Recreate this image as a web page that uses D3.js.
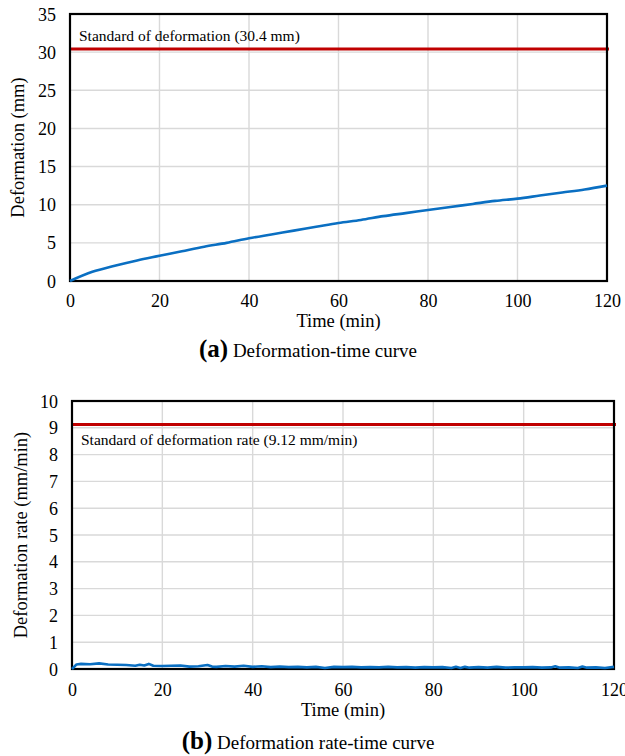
<!DOCTYPE html>
<html>
<head>
<meta charset="utf-8">
<script src="https://cdn.jsdelivr.net/npm/d3@7"></script>
<style>
  body { margin: 0; background: #fff; }
  svg text { font-family: "Liberation Serif", "Times New Roman", serif; fill: #000; }
</style>
</head>
<body>
<svg id="fig" width="625" height="756"></svg>
<script>
// (a) deformation vs time, every 5 min
const defTime  = [0, 5, 10, 15, 20, 25, 30, 35, 40, 45, 50, 55, 60, 65, 70, 75, 80, 85, 90, 95, 100, 105, 110, 115, 120];
const defValue = [0, 1.2, 2.0, 2.7, 3.3, 3.9, 4.5, 5.0, 5.6, 6.1, 6.6, 7.1, 7.6, 8.0, 8.5, 8.9, 9.3, 9.7, 10.1, 10.5, 10.8, 11.2, 11.6, 12.0, 12.5];

// (b) deformation rate vs time
const rateTime  = [0, 1, 2, 4, 6, 8, 10, 12, 14, 15, 16, 17, 18, 20, 22, 24, 26, 28, 30, 31, 32, 34, 36, 38, 40, 42, 44, 46, 48, 50, 52, 54, 56, 58, 60, 62, 64, 66, 68, 70, 72, 74, 76, 78, 80, 82, 84, 85, 86, 87, 88, 90, 92, 94, 96, 98, 100, 102, 104, 106, 107, 108, 110, 112, 113, 114, 116, 118, 120];
const rateValue = [0, 0.17, 0.19, 0.18, 0.21, 0.17, 0.16, 0.15, 0.12, 0.16, 0.13, 0.19, 0.12, 0.11, 0.12, 0.13, 0.09, 0.10, 0.15, 0.09, 0.08, 0.11, 0.09, 0.12, 0.08, 0.10, 0.07, 0.09, 0.07, 0.08, 0.06, 0.08, 0.04, 0.08, 0.07, 0.08, 0.06, 0.07, 0.06, 0.08, 0.06, 0.07, 0.05, 0.07, 0.06, 0.07, 0.04, 0.08, 0.04, 0.08, 0.05, 0.07, 0.05, 0.08, 0.05, 0.06, 0.06, 0.07, 0.05, 0.06, 0.10, 0.05, 0.06, 0.04, 0.09, 0.05, 0.06, 0.04, 0.08];

const xTicks  = [0, 20, 40, 60, 80, 100, 120];
const aYTicks = [0, 5, 10, 15, 20, 25, 30, 35];
const bYTicks = [0, 1, 2, 3, 4, 5, 6, 7, 8, 9, 10];

const FONT = '"Liberation Serif", "Times New Roman", serif';
const svg = d3.select("#fig");

function panel(o) {
  const x = d3.scaleLinear().domain([0, 120]).range([o.left, o.right]);
  const y = d3.scaleLinear().domain([0, o.yMax]).range([o.bottom, o.top]);
  const g = svg.append("g");

  // grid
  g.append("g").selectAll("line").data(o.yTicks.slice(1, -1)).enter().append("line")
    .attr("x1", o.left).attr("x2", o.right)
    .attr("y1", d => y(d)).attr("y2", d => y(d))
    .attr("stroke", "#d9d9d9").attr("stroke-width", 1.4);
  g.append("g").selectAll("line").data(xTicks.slice(1, -1)).enter().append("line")
    .attr("y1", o.top).attr("y2", o.bottom)
    .attr("x1", d => x(d)).attr("x2", d => x(d))
    .attr("stroke", "#d9d9d9").attr("stroke-width", 1.4);

  // axes (labels only)
  const ax = g.append("g").attr("transform", `translate(0,${o.bottom})`)
    .call(d3.axisBottom(x).tickValues(xTicks).tickSize(0).tickPadding(0))
    .attr("font-family", FONT).attr("font-size", 18);
  ax.select(".domain").remove();
  ax.selectAll("text").attr("y", o.xLabelY - o.bottom).attr("dy", null);

  const ay = g.append("g").attr("transform", `translate(${o.yLabelX},0)`)
    .call(d3.axisLeft(y).tickValues(o.yTicks).tickSize(0).tickPadding(0))
    .attr("font-family", FONT).attr("font-size", 18);
  ay.select(".domain").remove();
  ay.selectAll("text").attr("dy", "0.34em");

  // standard line
  g.append("line")
    .attr("x1", o.left).attr("x2", o.right + 2)
    .attr("y1", y(o.std)).attr("y2", y(o.std))
    .attr("stroke", "#c00000").attr("stroke-width", 3);
  g.append("text").attr("x", o.noteX).attr("y", o.noteY)
    .style("font-size", "15.5px").text(o.note);

  // frame
  g.append("rect")
    .attr("x", o.left).attr("y", o.top)
    .attr("width", o.right - o.left).attr("height", o.bottom - o.top)
    .attr("fill", "none").attr("stroke", "#000").attr("stroke-width", 2.2);

  // data
  g.append("path")
    .datum(o.t.map((t, i) => [t, o.v[i]]))
    .attr("fill", "none").attr("stroke", "#0a6fc2").attr("stroke-width", 2.6)
    .attr("stroke-linejoin", "round")
    .attr("d", d3.line().x(d => x(d[0])).y(d => y(d[1])).curve(o.curve));

  // titles
  g.append("text").attr("x", (o.left + o.right) / 2).attr("y", o.xTitleY)
    .attr("text-anchor", "middle").style("font-size", "18.5px").text("Time (min)");
  g.append("text")
    .attr("transform", `translate(${o.yTitleX},${(o.top + o.bottom) / 2}) rotate(-90)`)
    .attr("text-anchor", "middle").style("font-size", "18.5px").text(o.yTitle);

  const cap = g.append("text").attr("x", 308).attr("y", o.capY).attr("text-anchor", "middle");
  cap.append("tspan").style("font-weight", "bold").style("font-size", "25px").text(o.capTag);
  cap.append("tspan").style("font-size", "19px").text(" " + o.capText);
}

panel({
  left: 70, right: 607, top: 14, bottom: 281, yMax: 35, yTicks: aYTicks,
  t: defTime, v: defValue, curve: d3.curveMonotoneX,
  std: 30.4, note: "Standard of deformation (30.4 mm)", noteX: 79, noteY: 41,
  xLabelY: 307, yLabelX: 56, xTitleY: 327, yTitleX: 24, yTitle: "Deformation (mm)",
  capY: 357, capTag: "(a)", capText: "Deformation-time curve"
});

panel({
  left: 72, right: 614, top: 401, bottom: 669, yMax: 10, yTicks: bYTicks,
  t: rateTime, v: rateValue, curve: d3.curveLinear,
  std: 9.12, note: "Standard of deformation rate (9.12 mm/min)", noteX: 81, noteY: 445,
  xLabelY: 696, yLabelX: 58, xTitleY: 716, yTitleX: 27, yTitle: "Deformation rate (mm/min)",
  capY: 749, capTag: "(b)", capText: "Deformation rate-time curve"
});
</script>
</body>
</html>
